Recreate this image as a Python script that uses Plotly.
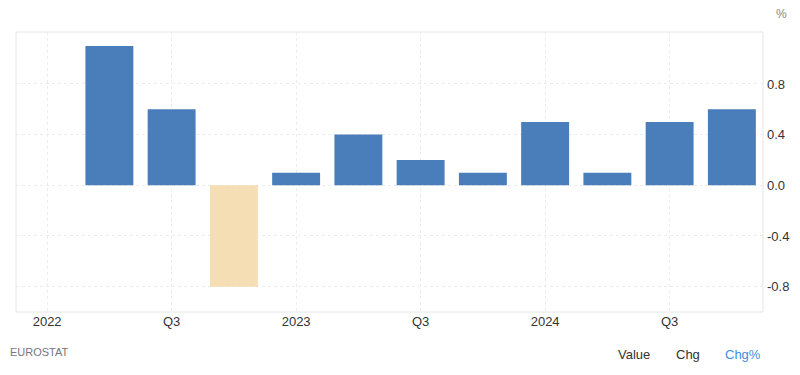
import plotly.graph_objects as go

quarters = ["2022Q1", "2022Q2", "2022Q3", "2022Q4",
            "2023Q1", "2023Q2", "2023Q3", "2023Q4",
            "2024Q1", "2024Q2", "2024Q3", "2024Q4"]
values = [None, 1.1, 0.6, -0.8, 0.1, 0.4, 0.2, 0.1, 0.5, 0.1, 0.5, 0.6]
tick_labels = ["2022", "", "Q3", "", "2023", "", "Q3", "", "2024", "", "Q3", ""]
y_ticks = [-0.8, -0.4, 0.0, 0.4, 0.8]

pos_color = "#4a7ebb"
neg_color = "#f5deb3"
colors = [neg_color if (v is not None and v < 0) else pos_color for v in values]

xi = list(range(len(quarters)))

fig = go.Figure()
fig.add_trace(go.Bar(x=xi, y=values, marker=dict(color=colors, line=dict(width=0)),
                     width=0.77, hoverinfo="y"))

fig.update_layout(
    width=784, height=359,
    margin=dict(l=8, r=29, t=24, b=55),
    plot_bgcolor="white", paper_bgcolor="white",
    font=dict(family="Liberation Sans, Arial, sans-serif", size=13, color="#333333"),
    showlegend=False,
    xaxis=dict(
        range=[-0.5, 11.5],
        tickmode="array",
        tickvals=[i for i, t in enumerate(tick_labels) if t],
        ticktext=[t for t in tick_labels if t],
        showgrid=True, gridcolor="#ececec", griddash="dot", gridwidth=1,
        zeroline=False, showline=False, ticks="",
        tickfont=dict(size=13, color="#333333"),
    ),
    yaxis=dict(
        range=[-1.0, 1.21],
        side="right",
        automargin=False,
        tickmode="array",
        tickvals=y_ticks,
        ticktext=[f"{v:.1f}" for v in y_ticks],
        showgrid=True, gridcolor="#ececec", griddash="dot", gridwidth=1,
        zeroline=False, showline=False, ticks="",
        ticklabelstandoff=3,
        tickfont=dict(size=13, color="#333333"),
    ),
    shapes=[
        dict(type="rect", xref="paper", yref="paper", x0=0, x1=1, y0=0, y1=1,
             line=dict(color="#e6e6e6", width=1), layer="below"),
    ],
    annotations=[
        dict(text="%", xref="paper", yref="paper", x=1.0, y=1.0, xanchor="left",
             yanchor="middle", xshift=11, yshift=18, showarrow=False,
             font=dict(size=12, color="#888888")),
        dict(text="EUROSTAT", xref="paper", yref="paper", x=0, y=0, xanchor="left",
             yanchor="middle", xshift=-8, yshift=-40, showarrow=False,
             font=dict(size=11, color="#777777")),
        dict(text="Value", xref="paper", yref="paper", x=1.0, y=0, xanchor="right",
             yanchor="middle", xshift=-111, yshift=-42, showarrow=False,
             font=dict(size=13, color="#333333")),
        dict(text="Chg", xref="paper", yref="paper", x=1.0, y=0, xanchor="right",
             yanchor="middle", xshift=-61, yshift=-42, showarrow=False,
             font=dict(size=13, color="#333333")),
        dict(text="Chg%", xref="paper", yref="paper", x=1.0, y=0, xanchor="right",
             yanchor="middle", xshift=0, yshift=-42, showarrow=False,
             font=dict(size=13, color="#3d8fdb")),
    ],
)

fig.write_html("out.html")
